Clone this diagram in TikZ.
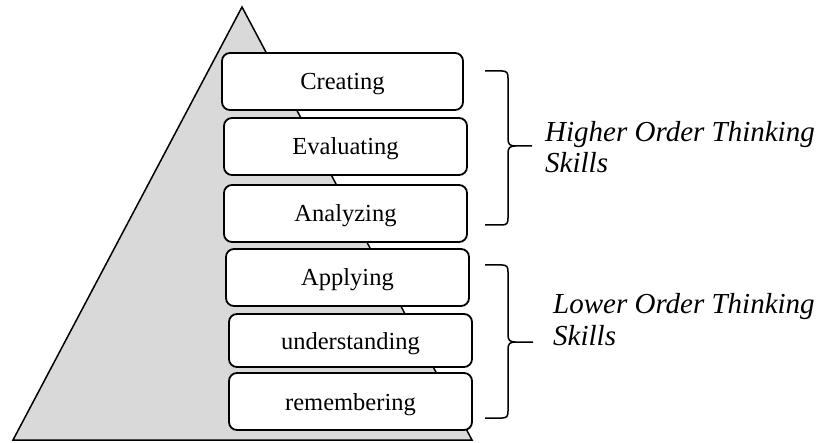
\documentclass[tikz,border=0pt]{standalone}
\usepackage{fontspec}
\setmainfont{Liberation Serif}
\definecolor{pyramidgray}{RGB}{217, 217, 217}

\tikzset{
    level/.style   ={draw=black, line width=1.8pt, fill=white, rounded corners=8pt,
                     minimum height=57pt, inner sep=0pt, text height=20pt, text depth=3pt,
                     font=\fontsize{24.5}{28}\selectfont},
    skills/.style  ={align=left, anchor=base west, inner sep=0pt,
                     font=\fontsize{29}{31.5}\selectfont\itshape},
    bracket/.style ={draw=black, line width=1.5pt}
}

\begin{document}
\begin{tikzpicture}[x=1pt, y=-1pt]
        \useasboundingbox (0,0) rectangle (821,443);
        % the pyramid behind the levels
        \filldraw[fill=pyramidgray, draw=black, line width=1.5pt, line join=miter]
                                                   ( 13,440) -- (242,  7) -- (472,440) -- cycle;
        % the six levels, top to bottom
        \node[level, minimum width=241pt]                (creating)      at (342.5, 81.5) {Creating};
        \node[level, minimum width=243pt]                (evaluating)    at (345.5,146.5) {Evaluating};
        \node[level, minimum width=243pt]                (analyzing)     at (345.5,213.5) {Analyzing};
        \node[level, minimum width=243pt]                (applying)      at (347.5,277.5) {Applying};
        \node[level, minimum width=243pt, minimum height=53pt]
                                                         (understanding) at (350.5,340.5) {understanding};
        \node[level, minimum width=243pt]                (remembering)   at (350.5,401.5) {remembering};
        % braces for the two groups
        \draw[bracket] (485, 71) -- (502, 71) .. controls (507, 71) and (508, 73) .. (508, 78)
                       -- (508,139) .. controls (508,144) and (510,146) .. (515,146) -- (532,146)
                       (515,146) .. controls (510,146) and (508,148) .. (508,153)
                       -- (508,218) .. controls (508,223) and (507,225) .. (502,225) -- (485,225);
        \draw[bracket] (485,265) -- (502,265) .. controls (507,265) and (508,267) .. (508,272)
                       -- (508,335) .. controls (508,340) and (510,342) .. (515,342) -- (533,342)
                       (515,342) .. controls (510,342) and (508,344) .. (508,349)
                       -- (508,411) .. controls (508,416) and (507,418) .. (502,418) -- (485,418);
        % group labels, placed by the baseline of their last line
        \node[skills] (higher) at (545,173) {Higher Order Thinking\\Skills};
        \node[skills] (lower)  at (553,345) {Lower Order Thinking\\Skills};
\end{tikzpicture}
\end{document}
